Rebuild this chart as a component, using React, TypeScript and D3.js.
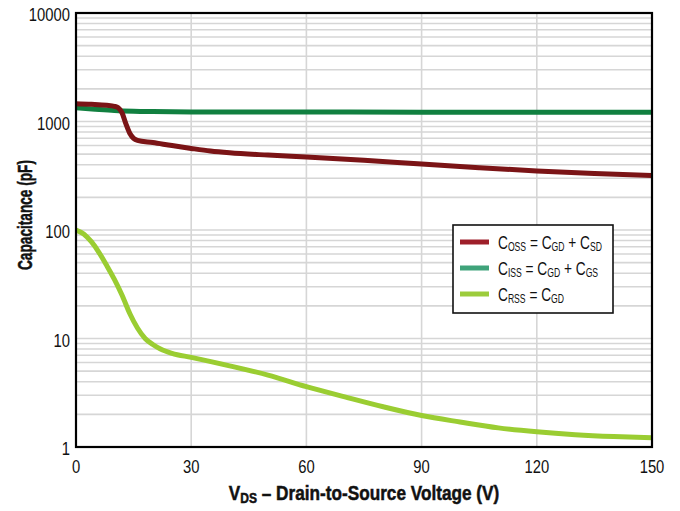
import React from "react";
import * as d3 from "d3";

const xTicks = [0, 30, 60, 90, 120, 150];
const yTicks = [1, 10, 100, 1000, 10000];

const cossV = [0, 4, 8, 10, 11, 12, 13, 14, 15, 16, 20, 25, 30, 35, 40, 50, 60, 75, 90, 105, 120, 135, 150];
const cossC = [1460, 1440, 1410, 1380, 1340, 1200, 950, 780, 700, 670, 640, 600, 565, 535, 515, 490, 470, 440, 405, 375, 350, 332, 318];

const cissV = [0, 5, 10, 15, 20, 30, 60, 90, 120, 150];
const cissC = [1340, 1300, 1265, 1245, 1235, 1225, 1222, 1220, 1220, 1220];

const crssV = [0, 2, 4, 6, 8, 10, 12, 14, 16, 18, 20, 22, 25, 30, 40, 50, 60, 70, 80, 90, 100, 110, 120, 130, 140, 150];
const crssC = [100, 92, 78, 62, 47, 35, 25, 17, 12.5, 10, 8.8, 8, 7.3, 6.7, 5.6, 4.6, 3.6, 2.9, 2.35, 1.95, 1.7, 1.5, 1.38, 1.3, 1.25, 1.22];

const legendSub1 = ["OSS", "ISS", "RSS"];
const legendSub2 = ["GD", "GD", "GD"];
const legendSub3 = ["SD", "GS", ""];

const FONT = "'Liberation Sans', Arial, sans-serif";

export default function App() {
  const left = 76, right = 652, top = 13, bottom = 447;
  const x = d3.scaleLinear().domain([0, 150]).range([left, right]);
  const y = d3.scaleLog().domain([1, 10000]).range([bottom, top]);

  const line = d3
    .line<[number, number]>()
    .x((d) => x(d[0]))
    .y((d) => y(d[1]))
    .curve(d3.curveMonotoneX);

  const zip = (a: number[], b: number[]) => a.map((v, i) => [v, b[i]] as [number, number]);

  const minor: number[] = [];
  for (let e = 0; e < 4; e++) {
    for (let m = 1; m <= 9; m++) {
      const v = m * Math.pow(10, e);
      if (v > 1 && v < 10000) minor.push(v);
    }
  }

  const series = [
    { d: zip(cissV, cissC), color: "#118040" },
    { d: zip(cossV, cossC), color: "#7b1416" },
    { d: zip(crssV, crssC), color: "#9acd32" },
  ];

  const legendColors = ["#9e1f2a", "#3fa37a", "#9ccc3c"];

  return (
    <svg
      width={680}
      height={511}
      style={{ position: "absolute", left: 0, top: 0, background: "#fff" }}
      fontFamily={FONT}
    >
      <rect x={0} y={0} width={680} height={511} fill="#fff" />
      {minor.map((v) => (
        <line key={"h" + v} x1={left} x2={right} y1={y(v)} y2={y(v)} stroke="#d6d6d6" strokeWidth={1.6} />
      ))}
      {xTicks.slice(1, -1).map((v) => (
        <line key={"v" + v} x1={x(v)} x2={x(v)} y1={top} y2={bottom} stroke="#d6d6d6" strokeWidth={1.6} />
      ))}
      <defs>
        <clipPath id="clip">
          <rect x={left} y={top} width={right - left} height={bottom - top} />
        </clipPath>
      </defs>
      <g clipPath="url(#clip)">
        {series.map((s, i) => (
          <path key={i} d={line(s.d) || ""} fill="none" stroke={s.color} strokeWidth={5} strokeLinejoin="round" />
        ))}
      </g>
      <rect x={left} y={top} width={right - left} height={bottom - top} fill="none" stroke="#000" strokeWidth={2.2} />
      {yTicks.map((v) => (
        <text
          key={"yt" + v}
          transform={`translate(70, ${y(v) + 8}) scale(0.8, 1)`}
          textAnchor="end"
          fontSize={18.5}
          fill="#111"
        >
          {v}
        </text>
      ))}
      {xTicks.map((v) => (
        <text
          key={"xt" + v}
          transform={`translate(${x(v)}, 473) scale(0.8, 1)`}
          textAnchor="middle"
          fontSize={18.5}
          fill="#111"
        >
          {v}
        </text>
      ))}
      <text
        transform={`translate(32, 215) rotate(-90)`}
        textAnchor="middle"
        fontSize={20}
        fontWeight="bold"
        fill="#111"
        stroke="#111"
        strokeWidth={0.5}
        textLength={110}
        lengthAdjust="spacingAndGlyphs"
      >
        Capacitance (pF)
      </text>
      <g transform="translate(364, 500) scale(0.86, 1)">
        <text textAnchor="middle" fontSize={20} fontWeight="bold" fill="#111" stroke="#111" strokeWidth={0.5}>
          V<tspan fontSize={14} dy={3}>DS</tspan>
          <tspan dy={-3}> – Drain-to-Source Voltage (V)</tspan>
        </text>
      </g>
      <rect x={453} y={225} width={160} height={88} fill="#fff" stroke="#111" strokeWidth={1.6} />
      {legendColors.map((c, i) => {
        const cy = 242 + i * 26;
        return (
          <g key={"lg" + i}>
            <line x1={460} x2={489} y1={cy} y2={cy} stroke={c} strokeWidth={5} />
            <g transform={`translate(498, ${cy + 7}) scale(0.72, 1)`}>
              <text fontSize={19} fill="#111">
                C<tspan fontSize={12} dy={2}>{legendSub1[i]}</tspan>
                <tspan dy={-2}> = C</tspan>
                <tspan fontSize={12} dy={2}>{legendSub2[i]}</tspan>
                {legendSub3[i] ? (
                  <>
                    <tspan dy={-2}> + C</tspan>
                    <tspan fontSize={12} dy={2}>{legendSub3[i]}</tspan>
                  </>
                ) : null}
              </text>
            </g>
          </g>
        );
      })}
    </svg>
  );
}
